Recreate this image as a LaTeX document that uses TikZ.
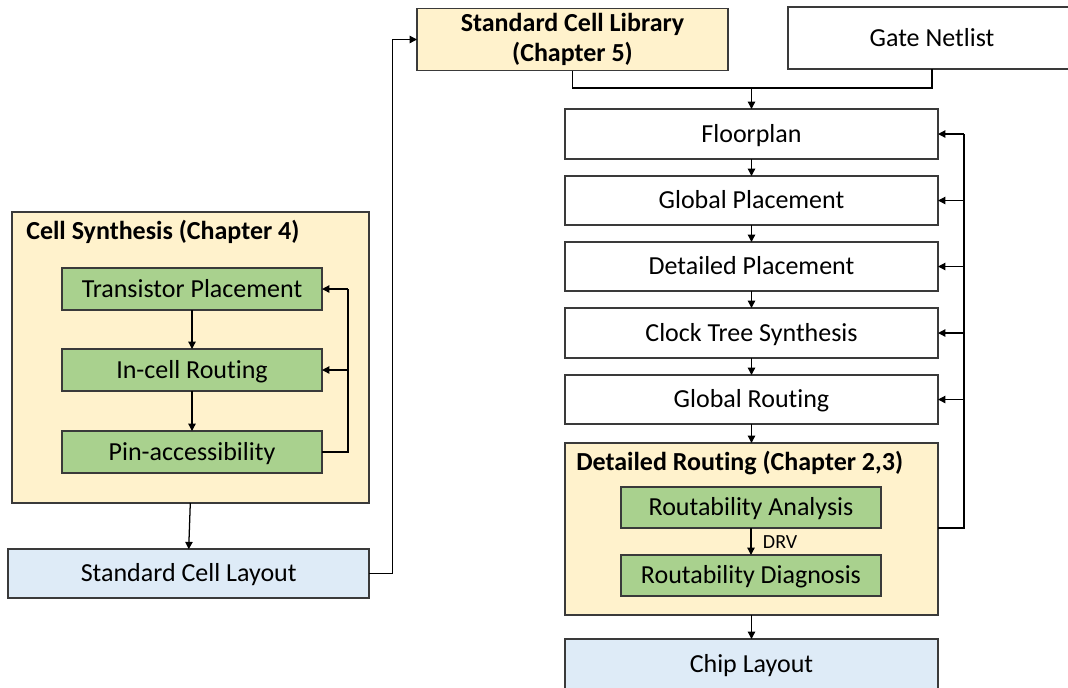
\documentclass[tikz,border=0pt]{standalone}
\usepackage{fontspec}
\setmainfont{Carlito}[Ligatures={NoCommon}]
\usetikzlibrary{arrows.meta}
\definecolor{libyellow}{HTML}{FFF2CC}
\definecolor{stepgreen}{HTML}{A9D18E}
\definecolor{layoutblue}{HTML}{DEEBF7}
\definecolor{edgegray}{HTML}{3A3A3A}
\tikzset{
  sz/.style 2 args={minimum width=#1*0.75pt, minimum height=#2*0.75pt},
  base/.style={draw=edgegray, line width=1.1pt, inner sep=0pt, outer sep=0pt,
    font=\fontsize{19.5}{22}\selectfont, text=black},
  oneline/.style={text height=14pt, text depth=2pt},
  whitebox/.style={base, oneline, fill=white},
  yellowbox/.style={base, fill=libyellow},
  greenbox/.style={base, oneline, fill=stepgreen},
  bluebox/.style={base, oneline, fill=layoutblue},
  title/.style={font=\fontsize{19.5}{22}\selectfont\bfseries, inner sep=0pt, anchor=west},
  flow/.style={draw=black, line width=0.95pt, -{Triangle[length=5.5pt,width=5.5pt]}},
  wire/.style={draw=black, line width=0.95pt},
}
\begin{document}
\begin{tikzpicture}[x=0.75pt, y=-0.75pt]
\useasboundingbox (0,0) rectangle (1068,687);
\clip (0,0) rectangle (1068,687);

% --- top inputs ---
\node[yellowbox, sz={311}{62}, align=center, font=\fontsize{19.5}{22}\selectfont\bfseries] (scl) at (572.5,39.5) {Standard Cell Library\\(Chapter 5)};
\node[whitebox, sz={288}{62}] (gn) at (932,38) {Gate Netlist};

% --- physical design flow ---
\node[whitebox, sz={373}{50}] (fp)  at (751.5,134)   {Floorplan};
\node[whitebox, sz={373}{49}] (gp)  at (751.5,200.5) {Global Placement};
\node[whitebox, sz={373}{49}] (dp)  at (751.5,266.5) {Detailed Placement};
\node[whitebox, sz={373}{50}] (cts) at (751.5,333)   {Clock Tree Synthesis};
\node[whitebox, sz={373}{49}] (gr)  at (751.5,399.5) {Global Routing};
\node[yellowbox, sz={373}{172}] (dr) at (751.5,529) {};
\node[title] (drt) at (576,463) {Detailed Routing (Chapter 2,3)};
\node[greenbox, sz={260}{41}] (ra) at (751,507.5) {Routability Analysis};
\node[greenbox, sz={260}{41}] (rd) at (751,575.5) {Routability Diagnosis};
\node[bluebox, sz={373}{50}] (cl) at (751.5,664) {Chip Layout};

% --- cell synthesis ---
\node[yellowbox, sz={357}{291}] (cs) at (190.3,357.5) {};
\node[title] (cst) at (26,231.5) {Cell Synthesis (Chapter 4)};
\node[greenbox, sz={260}{42}] (tp)  at (192,289) {Transistor Placement};
\node[greenbox, sz={260}{42}] (icr) at (192,370) {In-cell Routing};
\node[greenbox, sz={260}{42}] (pa)  at (192,452) {Pin-accessibility};
\node[bluebox, sz={361}{49}] (scly) at (188.7,573.7) {Standard Cell Layout};

% --- merging the inputs ---
\coordinate (merge) at (fp.north |- 0,88);
\draw[wire] (scl.south) |- (merge);
\draw[wire] (gn.south) |- (merge);
\draw[flow] (merge) -- (fp.north);

% --- main flow arrows ---
\draw[flow] (fp)  -- (gp);
\draw[flow] (gp)  -- (dp);
\draw[flow] (dp)  -- (cts);
\draw[flow] (cts) -- (gr);
\draw[flow] (gr)  -- (dr.north);
\draw[flow] (ra) -- node[anchor=west, inner sep=0pt, xshift=8.5pt, yshift=-0.5pt, font=\fontsize{15}{17}\selectfont] {DRV} (rd);
\draw[flow] (dr.south) -- (cl.north);

% --- feedback from detailed routing ---
\coordinate (fbout) at (dr.east |- 0,528);
\coordinate (fbx) at (964,528);
\draw[wire] (fbout) -- (fbx) -- (fbx |- fp.east);
\foreach \n in {fp,gp,dp,cts,gr}
  \draw[flow] (fbx |- \n.east) -- (\n.east);

% --- cell synthesis arrows ---
\draw[flow] (tp) -- (icr);
\draw[flow] (icr) -- (pa);
\coordinate (csx) at (348,0);
\draw[wire] (pa.east) -- (csx |- pa.east) -- (csx |- tp.east);
\draw[flow] (csx |- tp.east) -- (tp.east);
\draw[flow] (csx |- icr.east) -- (icr.east);
\draw[flow] (cs.south) -- (scly.north);

% --- layout back to the library ---
\coordinate (libx) at (392.5,0);
\draw[wire] (scly.east) -- (libx |- scly.east);
\draw[flow] (libx |- scly.east) -- (libx |- scl.west) -- (scl.west);
\end{tikzpicture}
\end{document}
